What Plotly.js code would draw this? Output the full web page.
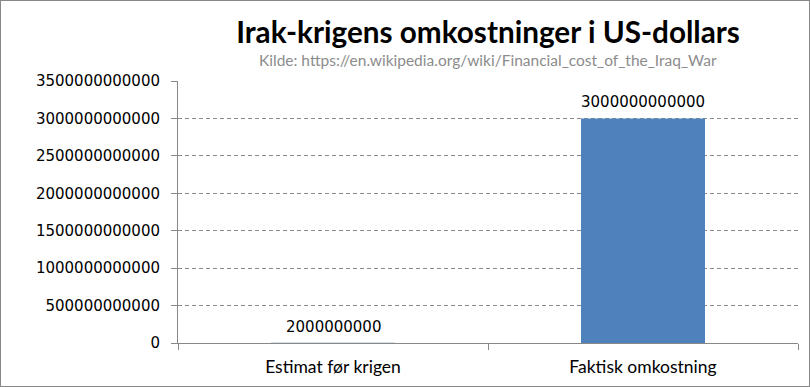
<!DOCTYPE html>
<html>
<head>
<meta charset="utf-8">
<script src="https://cdn.plot.ly/plotly-3.0.1.min.js"></script>
<style>
html,body{margin:0;padding:0;background:#fff;}
#wrap{position:relative;width:810px;height:387px;}
#chart{width:810px;height:387px;}
#border{position:absolute;left:0;top:0;width:808px;height:385px;border:1px solid #888;pointer-events:none;}
</style>
</head>
<body>
<div id="wrap"><div id="chart"></div><div id="border"></div></div>
<script>
const categories = ["Estimat før krigen", "Faktisk omkostning"];
const values = [2000000000, 3000000000000];
const tickValues = [0, 500000000000, 1000000000000, 1500000000000, 2000000000000, 2500000000000, 3000000000000, 3500000000000];
const tickLabels = ["0", "500000000000", "1000000000000", "1500000000000", "2000000000000", "2500000000000", "3000000000000", "3500000000000"];
const valueLabels = ["2000000000", "3000000000000"];

const trace = {
  type: "bar",
  x: categories,
  y: values,
  marker: {color: "#4F81BD"},
  hoverinfo: "x+y"
};

const valueAnnotations = categories.map((c, i) => ({
  x: c, y: values[i], xref: "x", yref: "y",
  text: valueLabels[i], showarrow: false,
  xanchor: "center", yanchor: "bottom", yshift: 5,
  font: {family: "DejaVu Sans", size: 15, color: "#000"}
}));

const layout = {
  width: 810, height: 387,
  margin: {l: 178, r: 12, t: 81, b: 44},
  paper_bgcolor: "#fff", plot_bgcolor: "#fff",
  bargap: 0.6,
  showlegend: false,
  title: {
    text: "Irak-krigens omkostninger i US-dollars",
    font: {family: "Lato", size: 29.7, color: "#000", weight: 700},
    x: 0.5, xref: "paper", xanchor: "center",
    y: 1 - 33/387, yref: "container", yanchor: "middle"
  },
  annotations: [{
    text: "Kilde: https://en.wikipedia.org/wiki/Financial_cost_of_the_Iraq_War",
    xref: "paper", yref: "paper", x: 0.5, y: (387 - 44 - 60) / (387 - 81 - 44),
    xanchor: "center", yanchor: "middle", showarrow: false,
    font: {family: "Lato", size: 15.5, color: "#8c8c8c"}
  }].concat(valueAnnotations),
  xaxis: {
    type: "category",
    showline: true, linecolor: "#888", linewidth: 1,
    ticks: "outside", tickson: "boundaries", ticklen: 6, tickcolor: "#888",
    tickfont: {family: "Lato", size: 17.5, color: "#000"},
    ticklabelstandoff: 8,
    showgrid: false, zeroline: false
  },
  yaxis: {
    range: [0, 3500000000000],
    tickvals: tickValues, ticktext: tickLabels,
    showline: true, linecolor: "#888", linewidth: 1,
    ticks: "outside", ticklen: 6, tickcolor: "#888",
    tickfont: {family: "DejaVu Sans", size: 15, color: "#000"},
    ticklabelstandoff: 8,
    showgrid: true, gridcolor: "#8a8a8a", griddash: "4px,3px", gridwidth: 1,
    zeroline: false
  }
};

Plotly.newPlot("chart", [trace], layout, {displayModeBar: false, staticPlot: true});
</script>
</body>
</html>
